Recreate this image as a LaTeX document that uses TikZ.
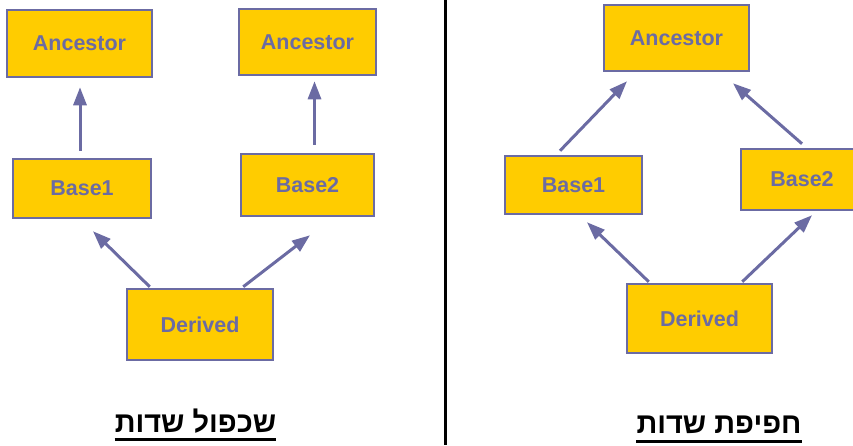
\documentclass[tikz,border=0pt]{standalone}
\usepackage{fontspec}
\setmainfont{Liberation Sans}
\newfontfamily\hebfont[Script=Hebrew]{Liberation Sans}
\TeXXeTstate=1
\usetikzlibrary{arrows.meta,calc}
\definecolor{gold}{HTML}{FFCC00}
\definecolor{boxc}{HTML}{6B6BA3}
\tikzset{
  box/.style={draw=boxc, fill=gold, line width=2.5pt, text=boxc, inner sep=0pt,
    font=\bfseries\fontsize{21.5}{25}\selectfont},
  arr/.style={draw=boxc, line width=3pt, -{Triangle[length=18pt,width=13pt]}},
  ttl/.style={inner sep=0pt, anchor=base, font=\hebfont\bfseries\fontsize{29}{32}\selectfont},
  uline/.style={line width=3pt, black}
}
\begin{document}
\begin{tikzpicture}[x=1pt,y=-1pt]
\useasboundingbox (0,0) rectangle (853,445);
\clip (0,0) rectangle (853,445);
% left diagram
\node[box, minimum width=145pt, minimum height=67pt] (al) at (79.5,43.5) {Ancestor};
\node[box, minimum width=138pt, minimum height=59pt] (b1l) at (82,188.5) {Base1};
\node[box, minimum width=137pt, minimum height=66pt] (al2) at (307.5,42) {Ancestor};
\node[box, minimum width=133pt, minimum height=62pt] (b2l) at (307.5,185) {Base2};
\node[box, minimum width=146pt, minimum height=71pt] (dl) at (200,324.5) {Derived};
\draw[arr] ($(b1l.north)+(-2,-7)$) -- ($(al.south)+(0.5,9)$);
\draw[arr] ($(b2l.north)+(7,-8)$) -- ($(al2.south)+(7,5)$);
\draw[arr] ($(dl.north west)+(24,-1)$) -- ($(b1l.south)+(11,12)$);
\draw[arr] ($(dl.north east)+(-31,-1)$) -- ($(b2l.south)+(2.5,18)$);
% divider
\draw[line width=3pt, black] (445,0) coordinate (dv1) -- (445,445) coordinate (dv2);
% right diagram
\node[box, minimum width=145pt, minimum height=66pt] (ar) at (676.5,38) {Ancestor};
\node[box, minimum width=137pt, minimum height=58pt] (b1r) at (573.5,185) {Base1};
\node[box, minimum width=122pt, minimum height=61pt] (b2r) at (802,179.5) {Base2};
\node[box, minimum width=145pt, minimum height=69pt] (dr) at (699.5,318.5) {Derived};
\draw[arr] ($(b1r.north)+(-13.5,-4)$) -- ($(ar.south)+(-49.5,9)$);
\draw[arr] ($(b2r.north)+(0,-4)$) -- ($(ar.south)+(56.5,11)$);
\draw[arr] ($(dr.north west)+(23,-1)$) -- ($(b1r.south)+(13.5,7)$);
\draw[arr] ($(dr.north east)+(-31,-1)$) -- ($(b2r.south)+(10,4)$);
% titles
\node[ttl] (tl) at (195.5,432) {\beginR שכפול שדות\endR};
\draw[uline] ($(tl.base west)+(0,7.5)$) -- ($(tl.base east)+(0,7.5)$);
\node[ttl] (tr) at (719,433) {\beginR חפיפת שדות\endR};
\draw[uline] ($(tr.base west)+(0,8)$) -- ($(tr.base east)+(0,8)$);
\end{tikzpicture}
\end{document}
